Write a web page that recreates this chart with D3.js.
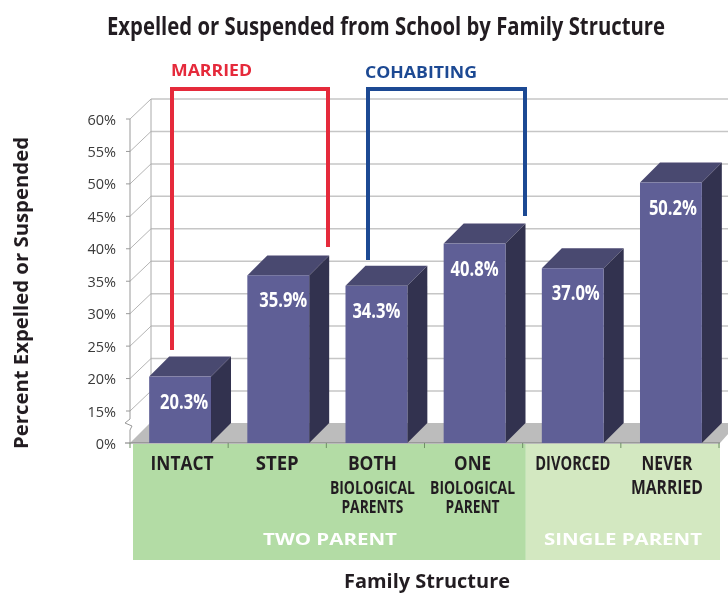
<!DOCTYPE html>
<html><head><meta charset="utf-8">
<script src="https://cdn.jsdelivr.net/npm/d3@7"></script>
<style>
html,body{margin:0;padding:0;background:#fff}
svg{display:block}
text{font-family:"Open Sans",sans-serif}
</style></head><body>
<script>
const categories=["INTACT","STEP","BOTH","ONE","DIVORCED","NEVER"];
const subLabels=[[],[],["BIOLOGICAL","PARENTS"],["BIOLOGICAL","PARENT"],[],["MARRIED"]];
const values=[20.3,35.9,34.3,40.8,37.0,50.2];
const tickValues=[0,15,20,25,30,35,40,45,50,55,60];
const title="Expelled or Suspended from School by Family Structure";
const yTitle="Percent Expelled or Suspended";
const xTitle="Family Structure";
// drawing tweaks, separate from the data
const catWidths=[63,43,49,37,75,51];
const subWidths=[[],[],[85,62],[85,54],[],[72]];
const catShift=[2,-1,-4,-2,0,-4];
const valShift=[4,5,0,0,3,2];

const W=728,H=594,dx=20,dy=-20;
const svg=d3.select("body").append("svg").attr("width",W).attr("height",H);
const defs=svg.append("defs");
defs.append("filter").attr("id","soft").attr("filterUnits","userSpaceOnUse").attr("x",0).attr("y",0).attr("width",W).attr("height",H)
  .append("feGaussianBlur").attr("stdDeviation",0.7);
const g=svg.append("g").attr("filter","url(#soft)");

const y=d3.scaleLinear().domain([0,15,60]).range([443,411,119]);
const x=d3.scaleBand().domain(categories).range([131,720]).paddingInner(0.37).paddingOuter(0.185);
const bw=x.bandwidth();
const xL=131, xR=720;
const ink="#231f20";

function label(px,py,str,size,width,fill,anchor){
  const t=g.append("text").attr("x",px).attr("y",py).attr("text-anchor",anchor||"middle").attr("font-size",size)
    .attr("font-weight",700).attr("fill",fill||ink).text(str);
  if(width) t.attr("textLength",width).attr("lengthAdjust","spacingAndGlyphs");
  return t;
}

// title
label(386,35,title,25,558);

// back wall grid
const grid="#c6c6c6";
tickValues.slice(1).forEach(t=>{
  g.append("line").attr("x1",xL+dx).attr("x2",W+5).attr("y1",y(t)+dy).attr("y2",y(t)+dy).attr("stroke",grid).attr("stroke-width",1.5);
  g.append("line").attr("x1",xL-1).attr("x2",xL+dx).attr("y1",y(t)).attr("y2",y(t)+dy).attr("stroke","#b4b4b4").attr("stroke-width",1);
  g.append("line").attr("x1",xL-5).attr("x2",xL-1).attr("y1",y(t)).attr("y2",y(t)).attr("stroke","#999");
});
g.append("line").attr("x1",xL+dx).attr("x2",xL+dx).attr("y1",y(60)+dy).attr("y2",y(0)+dy).attr("stroke","#aaa").attr("stroke-width",1);
// left axis with break
g.append("path").attr("fill","none").attr("stroke","#999").attr("stroke-width",1)
 .attr("d",d3.line()([[xL-1,y(60)],[xL-1,y(15)+8],[xL-6,y(15)+12],[xL+1,y(15)+15],[xL-1,y(15)+19],[xL-1,y(0)]]));

// green bands
const split=x("DIVORCED")-16;
g.append("rect").attr("x",133).attr("y",444).attr("width",split-133).attr("height",116).attr("fill","#b3dca5");
g.append("rect").attr("x",split).attr("y",444).attr("width",xR-split).attr("height",116).attr("fill","#d3e8c1");

// floor
g.append("polygon").attr("fill","#bcbcbc").attr("points",[[xL-1,y(0)],[xL-1+dx,y(0)+dy],[W+10,y(0)+dy],[xR,y(0)]].join(" "));
g.append("line").attr("x1",xL-6).attr("x2",xR).attr("y1",y(0)).attr("y2",y(0)).attr("stroke","#777").attr("stroke-width",1);
d3.range(7).forEach(i=>{
  const tx=xL-1+i*x.step();
  g.append("line").attr("x1",tx).attr("x2",tx).attr("y1",y(0)).attr("y2",y(0)+5).attr("stroke","#6f8f66");
});

// bars
const bars=g.selectAll("g.bar").data(values).join("g").attr("class","bar");
const X=(d,i)=>x(categories[i]);
bars.append("polygon").attr("fill","#4a4970").attr("points",(d,i)=>{const a=X(d,i),t=y(d);return [[a,t],[a+bw,t],[a+bw+dx,t+dy],[a+dx,t+dy]].join(" ")});
bars.append("polygon").attr("fill","#32314f").attr("points",(d,i)=>{const a=X(d,i)+bw,t=y(d);return [[a,t],[a+dx,t+dy],[a+dx,y(0)+dy],[a,y(0)]].join(" ")});
bars.append("rect").attr("fill","#5f5f96").attr("x",X).attr("y",d=>y(d)).attr("width",bw).attr("height",d=>y(0)-y(d));
bars.append("text").attr("x",(d,i)=>X(d,i)+bw/2+valShift[i]).attr("y",d=>y(d)+32).attr("text-anchor","middle")
  .attr("fill","#fff").attr("font-size",21).attr("font-weight",700)
  .attr("textLength",48).attr("lengthAdjust","spacingAndGlyphs").text(d=>d.toFixed(1)+"%");

// tick labels
tickValues.forEach(t=>{
  g.append("text").attr("x",116).attr("y",y(t)+5.5).attr("text-anchor","end").attr("font-size",14.5).attr("fill","#3a3a3a").text(t+"%");
});

// brackets
const red="#e5293a",blue="#1f4a93";
const bracket=(pts,c)=>g.append("path").attr("fill","none").attr("stroke",c).attr("stroke-width",4).attr("stroke-linejoin","miter").attr("d",d3.line()(pts));
bracket([[172,350],[172,89],[328,89],[328,247]],red);
bracket([[368,260],[368,89],[525,89],[525,216]],blue);
label(171,76,"MARRIED",16,81,red,"start");
label(365,78,"COHABITING",16,112,blue,"start");

// category labels
categories.forEach((c,i)=>{
  const cx=x(c)+bw/2+catShift[i];
  label(cx,470,c,19,catWidths[i]);
  subLabels[i].forEach((s,j)=>{
    label(cx,494+j*19,s,c==="NEVER"?19:18,subWidths[i][j]);
  });
});
label(330,545,"TWO PARENT",16.5,134,"#fff");
label(623,545,"SINGLE PARENT",16.5,158,"#fff");

// axis titles
label(427,588,xTitle,19,166);
label(0,0,yTitle,19,312).attr("transform","translate(28,293) rotate(-90)");
</script>
</body></html>
